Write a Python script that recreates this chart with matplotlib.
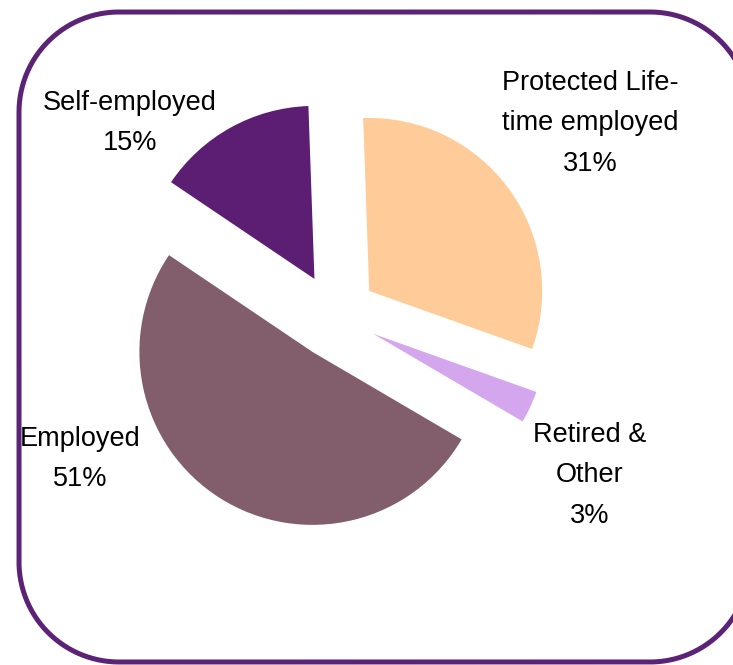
import matplotlib

matplotlib.use("Agg")
import matplotlib.pyplot as plt
import numpy as np

# Employment status shares, drawn clockwise from the top
categories = ["Protected Life-\ntime employed", "Retired &\nOther", "Employed", "Self-employed"]
shares = [31, 3, 51, 15]
colors = ["#FFCC99", "#D4A6EE", "#825D6B", "#5B1E72"]

# label anchors in pixels (x centre, first baseline), image origin top-left
LABEL_POS = [(590, 90), (590, 442), (80, 446), (130, 110)]
LINE_STEP = 40.5

W, H, DPI = 733, 665, 100
CX, CY, R = 335, 316, 173  # pie centre / radius in pixels


def px(x, y):
    """Pixel position (top-left origin) -> data coords of the pie axes."""
    return (x - CX) / R, (CY - y) / R


def rounded_rect(x0, y0, x1, y1, r, n=60):
    """Outline of a rectangle with circular corners, as closed x/y arrays."""
    t = np.linspace(0, np.pi / 2, n)
    corners = [(x1 - r, y1 - r, 0), (x0 + r, y1 - r, 90),
               (x0 + r, y0 + r, 180), (x1 - r, y0 + r, 270)]
    xs, ys = [], []
    for cx, cy, a0 in corners:
        a = np.deg2rad(a0) + t
        xs.extend(cx + r * np.cos(a))
        ys.extend(cy + r * np.sin(a))
    xs.append(xs[0])
    ys.append(ys[0])
    return np.array(xs), np.array(ys)


fig = plt.figure(figsize=(W / DPI, H / DPI), dpi=DPI)
ax = fig.add_axes([0, 0, 1, 1])
ax.pie(
    shares,
    colors=colors,
    startangle=92,
    counterclock=False,
    explode=[0.245] * len(shares),
    radius=1,
    wedgeprops=dict(linewidth=0),
)
ax.set_xlim(-CX / R, (W - CX) / R)
ax.set_ylim(-(H - CY) / R, CY / R)
ax.set_aspect("auto")
ax.axis("off")

for name, share, (lx, ly) in zip(categories, shares, LABEL_POS):
    lines = name.split("\n") + [f"{share}%"]
    for i, line in enumerate(lines):
        x, y = px(lx, ly + i * LINE_STEP)
        ax.text(x, y, line, ha="center", va="baseline",
                fontsize=19.5, family="Liberation Sans", color="black")

# rounded frame, running off the right and bottom edges
x0, y0 = px(19, 662)
x1, y1 = px(750, 12)
fx, fy = rounded_rect(x0, y0, x1, y1, 100 / R)
ax.plot(fx, fy, color="#5B2275", linewidth=3.6, solid_joinstyle="round")

fig.savefig("out.png", dpi=DPI)
